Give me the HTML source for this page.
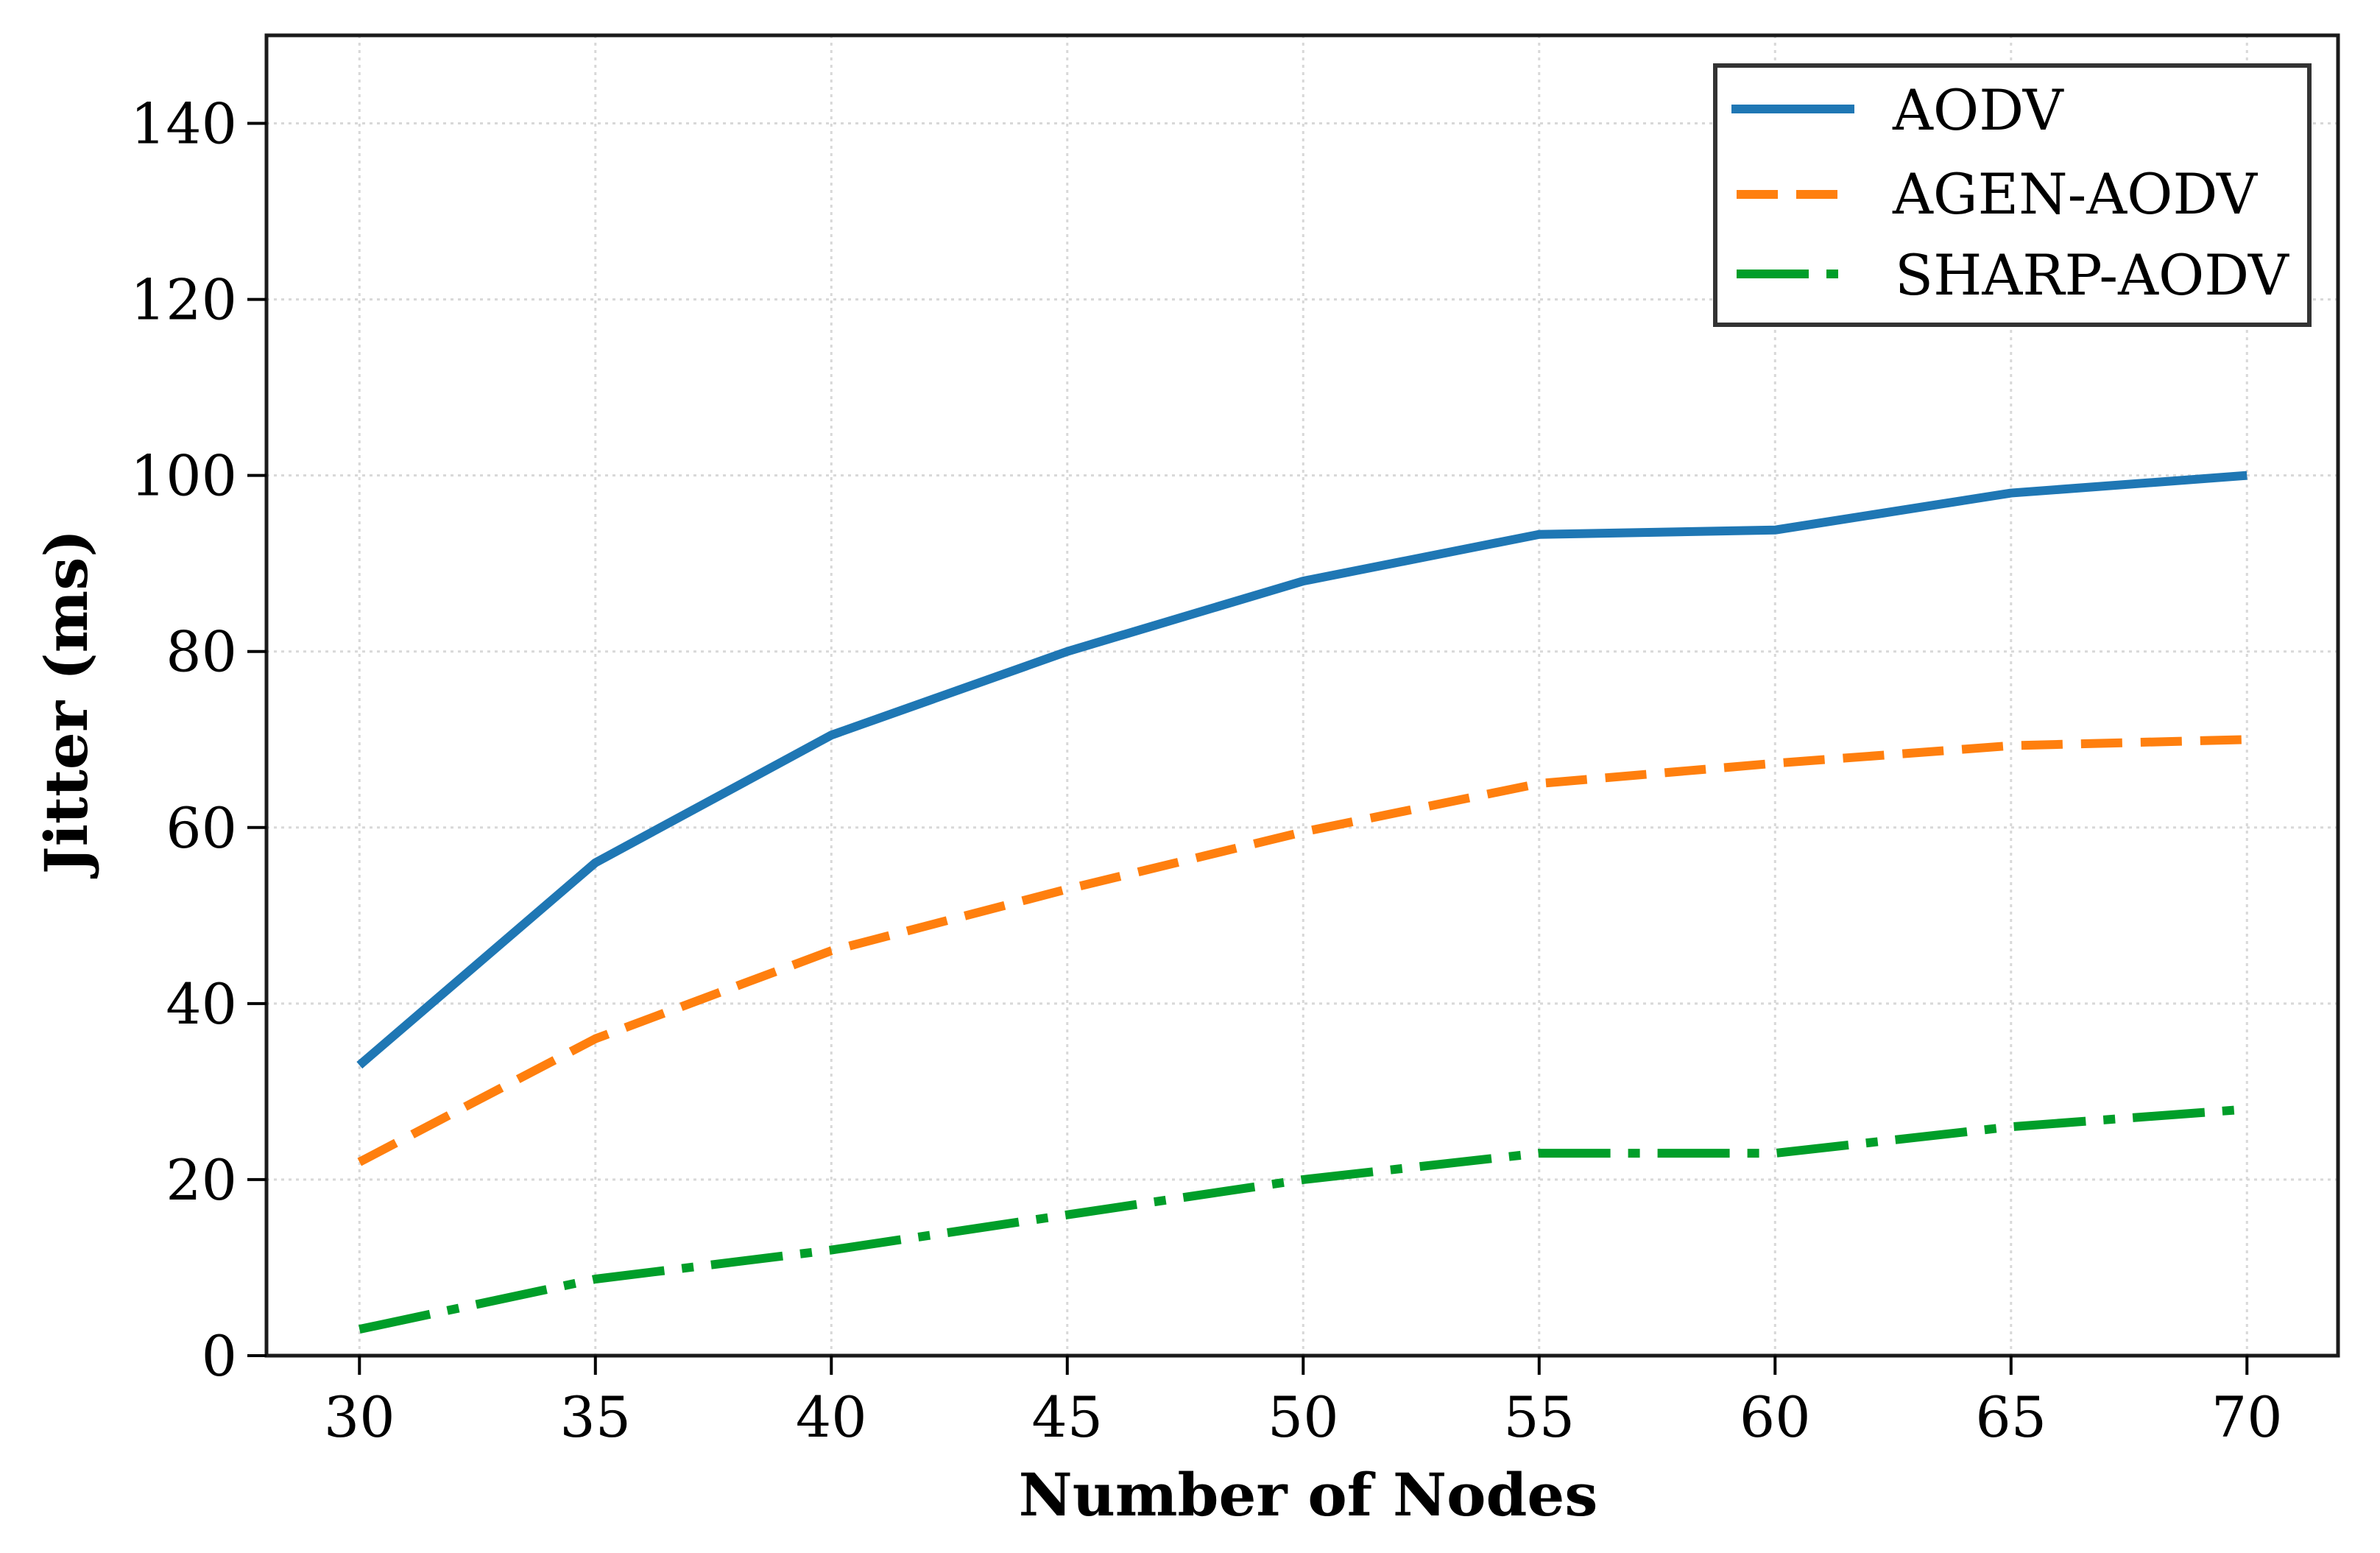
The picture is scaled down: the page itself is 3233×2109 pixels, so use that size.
<!DOCTYPE html>
<html><head><meta charset="utf-8"><style>
html,body{margin:0;padding:0;background:#fff;}
svg{display:block;font-family:"DejaVu Serif","Liberation Serif",serif;}
</style></head><body>
<svg id="chart" width="3233" height="2109" viewBox="0 0 3233 2109">
<g id="grid"></g>
<g id="series"></g>
<rect x="362" y="48" width="2814" height="1793" fill="none" stroke="#1a1a1a" stroke-width="5"/>
<g id="xticks"></g>
<g id="yticks"></g>
<text x="1777" y="2058" text-anchor="middle" font-size="80" font-weight="bold">Number of Nodes</text>
<text transform="translate(118,953) rotate(-90)" text-anchor="middle" font-size="80" font-weight="bold">Jitter (ms)</text>
<g>
<rect x="2330" y="89" width="807" height="352" fill="#fff" stroke="#333" stroke-width="6"/>
<g>
<line x1="2352" y1="148" x2="2519" y2="148" stroke="#1f77b4" stroke-width="12"/>
<text x="2571" y="176" font-size="76">AODV</text></g>
<g>
<line x1="2359" y1="264" x2="2497" y2="264" stroke="#ff7f0e" stroke-width="12" stroke-dasharray="56,25"/>
<text x="2571" y="290" font-size="76">AGEN-AODV</text></g>
<g>
<line x1="2359" y1="372" x2="2497" y2="372" stroke="#009e29" stroke-width="12" stroke-dasharray="98,24,16,24"/>
<text x="2574" y="400" font-size="76">SHARP-AODV</text></g>
</g>
</svg>
<script>
const categories = [30,35,40,45,50,55,60,65,70];
const aodv = [33,56,70.5,80,88,93.3,93.8,98,100];
const agenAodv = [22,36,46,53,59.5,65,67.3,69.3,70];
const sharpAodv = [3,8.7,12,16,20,23,23,26,28];
const yTicks = [0,20,40,60,80,100,120,140];
const xTicks = [30,35,40,45,50,55,60,65,70];

const NS = "http://www.w3.org/2000/svg";
const L=362,R=3176,T=48,B=1841;
const xMin=28.03,xMax=71.93,yMin=0,yMax=150;
function xs(v){return L+(v-xMin)/(xMax-xMin)*(R-L);}
function ys(v){return B-(v-yMin)/(yMax-yMin)*(B-T);}
function mk(tag,attrs,parent){const e=document.createElementNS(NS,tag);for(const k in attrs)e.setAttribute(k,attrs[k]);parent.appendChild(e);return e;}
const grid=document.getElementById('grid'),xt=document.getElementById('xticks'),yt=document.getElementById('yticks'),ser=document.getElementById('series');
xTicks.forEach(v=>{
  const g=mk('line',{x1:xs(v),x2:xs(v),y1:T,y2:B,stroke:'#d8d8d8','stroke-width':3,'stroke-dasharray':'4,6'},grid);
  
  
  const t=mk('line',{x1:xs(v),x2:xs(v),y1:B,y2:B+26,stroke:'#000','stroke-width':4},xt);
  
  
  const l=mk('text',{x:xs(v),y:B+110,'text-anchor':'middle','font-size':76},xt);
  l.textContent=v;
  
  
});
yTicks.forEach(v=>{
  const g=mk('line',{x1:L,x2:R,y1:ys(v),y2:ys(v),stroke:'#d8d8d8','stroke-width':3,'stroke-dasharray':'4,6'},grid);
  
  
  const t=mk('line',{x1:L-26,x2:L,y1:ys(v),y2:ys(v),stroke:'#000','stroke-width':4},yt);
  
  
  const l=mk('text',{x:L-40,y:ys(v)+27,'text-anchor':'end','font-size':76},yt);
  l.textContent=v;
  
  
});
function series(vals,color,dash,name){
  const pts=vals.map((v,i)=>xs(categories[i])+','+ys(v)).join(' ');
  const p=mk('polyline',{points:pts,fill:'none',stroke:color,'stroke-width':12,'stroke-linejoin':'round'},ser);
  if(dash)p.setAttribute('stroke-dasharray',dash);
  
  
}
series(aodv,'#1f77b4',null,'line-aodv');
series(agenAodv,'#ff7f0e','56,25','line-agen-aodv');
series(sharpAodv,'#009e29','98,24,16,24','line-sharp-aodv');
</script>
</body></html>
